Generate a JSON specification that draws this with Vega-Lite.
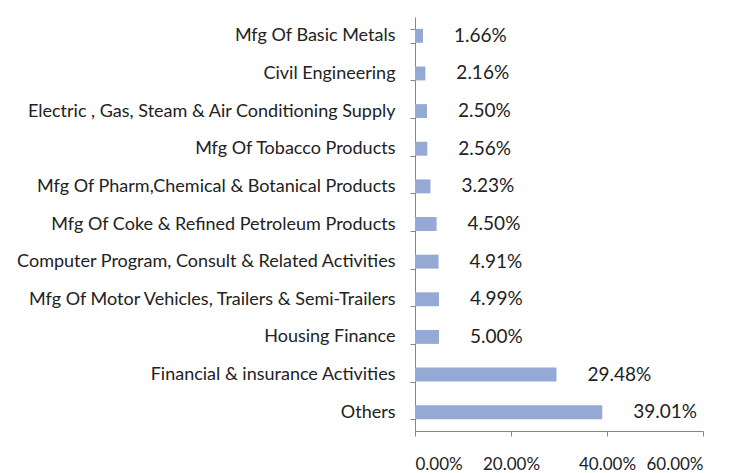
{
  "$schema": "https://vega.github.io/schema/vega-lite/v6.json",
  "autosize": "none",
  "padding": {"left": 415, "top": 17, "right": 28, "bottom": 42},
  "width": 288,
  "height": 414,
  "background": "white",
  "config": {"view": {"stroke": null}, "font": "Lato"},
  "data": {
    "values": [
      {"sector": "Mfg Of Basic Metals", "value": 0.0166},
      {"sector": "Civil Engineering", "value": 0.0216},
      {"sector": "Electric , Gas, Steam & Air Conditioning  Supply", "value": 0.025},
      {"sector": "Mfg Of Tobacco Products", "value": 0.0256},
      {"sector": "Mfg Of Pharm,Chemical & Botanical Products", "value": 0.0323},
      {"sector": "Mfg Of Coke & Refined Petroleum Products", "value": 0.045},
      {"sector": "Computer Program, Consult  & Related Activities", "value": 0.0491},
      {"sector": "Mfg Of Motor Vehicles, Trailers & Semi-Trailers", "value": 0.0499},
      {"sector": "Housing Finance", "value": 0.05},
      {"sector": "Financial & insurance Activities", "value": 0.2948},
      {"sector": "Others", "value": 0.3901}
    ]
  },
  "encoding": {
    "y": {
      "field": "sector", "type": "nominal", "sort": null,
      "scale": {"paddingInner": 0.63, "paddingOuter": 0.315},
      "axis": {
        "title": null, "tickBand": "extent", "tickSize": 5, "tickColor": "#868686",
        "domainColor": "#868686", "labelFontSize": 18, "labelColor": "#222222",
        "labelPadding": 15, "labelLimit": 420, "labelFont": "Lato"
      }
    },
    "x": {
      "field": "value", "type": "quantitative",
      "scale": {"domain": [0, 0.6], "nice": false},
      "axis": {
        "title": null, "values": [0, 0.2, 0.4, 0.6], "format": ".2%", "grid": false,
        "tickSize": 5, "tickColor": "#868686", "domainColor": "#868686",
        "labelFontSize": 17, "labelColor": "#222222", "labelPadding": 20, "labelFont": "Lato"
      }
    }
  },
  "layer": [
    {"mark": {"type": "bar", "color": "#94A9D4"}},
    {
      "mark": {"type": "text", "align": "left", "dx": 31, "fontSize": 19, "color": "#222222", "font": "Lato"},
      "encoding": {"text": {"field": "value", "type": "quantitative", "format": ".2%"}}
    }
  ]
}
